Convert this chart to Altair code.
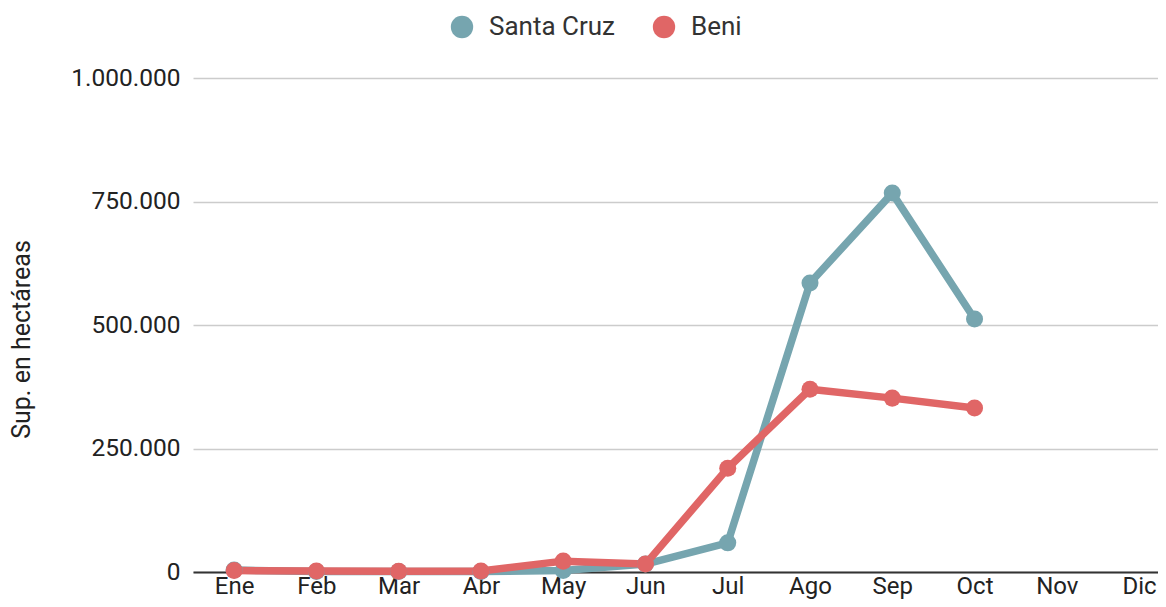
import json
import altair as alt
import pandas as pd

months = ["Ene", "Feb", "Mar", "Abr", "May", "Jun", "Jul", "Ago", "Sep", "Oct", "Nov", "Dic"]
series_names = ["Santa Cruz", "Beni"]
santa_cruz = [4000, 1000, 1000, 1000, 3000, 16000, 59000, 585000, 767000, 512000]
beni = [3000, 2000, 1500, 2000, 22000, 16000, 210000, 370000, 352000, 332000]
colors = ["#76a5af", "#e06666"]
y_ticks = [0, 250000, 500000, 750000, 1000000]

rows = []
for name, vals in zip(series_names, [santa_cruz, beni]):
    for i, v in enumerate(vals):
        rows.append({"idx": i, "mes": months[i], "depto": name, "valor": v})
df = pd.DataFrame(rows)

FONT = "Roboto"
FS = 25
label_expr = json.dumps(months) + "[datum.value]"

base = alt.Chart(df).encode(
    x=alt.X(
        "idx:Q",
        scale=alt.Scale(domain=[-0.5, 11.23], nice=False, zero=False),
        axis=alt.Axis(
            values=list(range(12)),
            labelExpr=label_expr,
            title=None,
            grid=False,
            ticks=False,
            domain=True,
            domainColor="#333333",
            domainWidth=2,
            labelFont=FONT,
            labelFontSize=24,
            labelColor="#222222",
            labelPadding=2,
        ),
    ),
    y=alt.Y(
        "valor:Q",
        scale=alt.Scale(domain=[0, 1000000], nice=False),
        axis=alt.Axis(
            values=y_ticks,
            format=",d",
            title="Sup. en hectáreas",
            titleFont=FONT,
            titleFontSize=FS,
            titleFontWeight="normal",
            titleColor="#222222",
            titlePadding=36,
            titleY=261,
            grid=True,
            gridColor="#cccccc",
            gridWidth=1.5,
            domain=False,
            ticks=False,
            labelFont=FONT,
            labelFontSize=24.5,
            labelColor="#222222",
            labelPadding=13,
        ),
    ),
    color=alt.Color(
        "depto:N",
        scale=alt.Scale(domain=series_names, range=colors),
        sort=series_names,
        legend=alt.Legend(
            title=None,
            orient="none",
            legendX=256,
            legendY=-64,
            direction="horizontal",
            symbolType="circle",
            symbolSize=500,
            symbolStrokeWidth=0,
            symbolOpacity=1,
            labelFont=FONT,
            labelFontSize=26,
            labelColor="#333333",
            labelOffset=14,
            columnPadding=35,
            padding=0,
        ),
    ),
)

line = base.mark_line(strokeWidth=7.5, strokeJoin="round", strokeCap="round")
points = base.mark_circle(size=290, opacity=1)

chart = (
    (line + points)
    .properties(
        width=965,
        height=494,
        padding={"left": 185, "top": 70, "right": 0, "bottom": 27},
        autosize=alt.AutoSizeParams(type="none"),
    )
    .configure(locale={"number": {"decimal": ",", "thousands": ".", "grouping": [3], "currency": ["", ""]}})
    .configure_view(stroke=None)
)

chart.save("out.html", embed_options={"renderer": "svg", "actions": False})
